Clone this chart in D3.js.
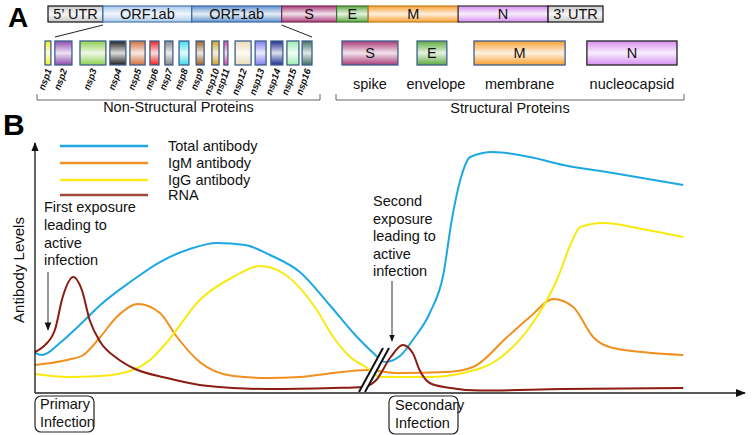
<!DOCTYPE html>
<html>
<head>
<meta charset="utf-8">
<script src="https://cdn.jsdelivr.net/npm/d3@7"></script>
<style>
  body { margin: 0; background: #fff; }
  svg { font-family: "Liberation Sans", Arial, Helvetica, sans-serif; }
</style>
</head>
<body>
<svg id="chart" width="752" height="435"></svg>
<script>
// Genome segments (relative genome units 0..100)
const genomeNames  = ["5\u2019 UTR", "ORF1ab", "ORF1ab", "S", "E", "M", "N", "3\u2019 UTR"];
const genomeBounds = [0, 9.9, 25.9, 42.1, 52, 57.7, 73.9, 90.1, 100];
const genomeColors = ["#c8c8c8", "#a9c8ea", "#5e93cc", "#a83c78", "#5caa40", "#f8a030", "#d68ef0", "#c8c8c8"];
const genomeStroke = ["#111", "#4a78b0", "#3a66a8", "#7a2a56", "#3f6f30", "#c77a20", "#333", "#111"];

// Non-structural proteins (relative span within ORF1ab)
const nspNames  = ["nsp1","nsp2","nsp3","nsp4","nsp5","nsp6","nsp7","nsp8","nsp9","nsp10","nsp11","nsp12","nsp13","nsp14","nsp15","nsp16"];
const nspStart  = [0, 3.7, 13.1, 24.3, 31.8, 39.3, 44.9, 50.2, 56.6, 62.5, 67, 71.2, 78.7, 84.6, 90.6, 96.3];
const nspEnd    = [2.2, 10.1, 22.8, 30.3, 37.5, 42.7, 47.9, 53.9, 59.6, 65.2, 68.5, 77.2, 82.8, 89.1, 95.1, 100];
const nspColors = ["#f2ee1a","#8e4bb0","#8fcf50","#1e1e1e","#d0703a","#f02020","#858585","#3fdde8","#a06020","#d0a020","#e040a0","#eadcb8","#7e7ef0","#1e2e90","#9eeeb0","#3f6f62"];

// Structural proteins
const spNames  = ["S", "E", "M", "N"];
const spLabels = ["spike", "envelope", "membrane", "nucleocapsid"];
const spStart  = [0, 22.4, 39.4, 73.1];
const spEnd    = [16.7, 31.3, 66.6, 100];
const spColors = ["#a83c78", "#5caa40", "#f8a030", "#d68ef0"];

// Antibody kinetics: [time, level]
const totalAb = [[0,16],[1,15.2],[3.5,20],[6.3,27.2],[9.2,35.2],[13.4,44.4],[17.6,52.4],[21.8,57.6],[25.6,60],[29.6,59.2],[33.1,55.2],[37.3,48.4],[41.5,35.2],[45.1,23.2],[47.5,16.4],[49.3,12.4],[51.4,14.8],[53.2,21.2],[55.6,32],[57.5,47.2],[58.7,69.2],[59.9,85.2],[61.3,94.4],[64.5,96.4],[69.7,94.4],[74.4,91.2],[81.4,88],[91.3,83.2]];
const igmAb   = [[0,11.2],[4.5,13.2],[6.8,15.2],[9.2,22.4],[11.5,30.4],[14.5,35.6],[17.6,32],[20,22.4],[23.2,12.4],[27.9,6.8],[32.7,6],[37.3,6.4],[42,8],[46.8,9.2],[51,8],[58,8.4],[61.7,10.4],[66.5,22.4],[69.7,30.4],[73,37.6],[75.8,34.4],[78.6,22.4],[81.4,18],[91.3,15.2]];
const iggAb   = [[0,7.6],[4.5,6.4],[9.2,6.8],[13.8,9.2],[16.2,13.2],[18.6,20.4],[23.2,37.2],[27.9,46.4],[31.7,50.8],[34.9,48],[39.7,33.2],[42,22.4],[44.4,14.4],[46.8,10],[48.6,6.4],[55.6,6.4],[60.3,8],[65.1,13.2],[69.7,26.4],[72.1,37.2],[73.5,45.2],[75.4,59.2],[76.8,66.4],[80,68],[86.2,65.2],[91.3,62.4]];
const rna     = [[0,16.4],[1.1,18.4],[2.8,25.2],[3.9,38.4],[5.4,46.4],[6.6,41.2],[7.7,29.2],[9.2,20.4],[11.5,14],[13.8,10],[18.6,6],[23.2,3.2],[27.9,2],[32.7,1.6],[42,2],[46.2,2.4],[48,5],[50.1,14.4],[51.8,19.2],[53.2,16],[54.2,9],[55.6,4],[58,2.2],[62.7,1],[74.4,1.6],[91.3,2]];

const seriesNames  = ["Total antibody", "IgM antibody", "IgG antibody", "RNA"];
const seriesData   = [totalAb, igmAb, iggAb, rna];
const seriesColors = ["#1ea8e2", "#f0901e", "#f8ea10", "#8a1c12"];
const legendColors = ["#1ea8e2", "#f0922a", "#fbe920", "#a0483a"];

const svg = d3.select("#chart");
const defs = svg.append("defs");

// vertical shine gradient: colour - light - colour
function shine(id, c) {
  const g = defs.append("linearGradient").attr("id", id)
    .attr("x1", 0).attr("y1", 0).attr("x2", 0).attr("y2", 1);
  g.append("stop").attr("offset", "0%").attr("stop-color", c);
  g.append("stop").attr("offset", "50%").attr("stop-color", d3.interpolateRgb(c, "#fff")(0.85));
  g.append("stop").attr("offset", "100%").attr("stop-color", c);
  return `url(#${id})`;
}

// ---------- Panel A ----------
svg.append("text").attr("x", 8).attr("y", 27)
  .attr("font-size", 28).attr("font-weight", "bold").text("A");

const gx = d3.scaleLinear().domain([0, 100]).range([48, 603]);
const barTop = 6, barH = 16;
const genome = svg.append("g");
genomeNames.forEach((name, i) => {
  const x0 = gx(genomeBounds[i]), x1 = gx(genomeBounds[i + 1]);
  genome.append("rect").attr("x", x0).attr("y", barTop).attr("width", x1 - x0).attr("height", barH)
    .attr("fill", shine("g" + i, genomeColors[i])).attr("stroke", genomeStroke[i]).attr("stroke-width", 1.2);
  genome.append("text").attr("x", (x0 + x1) / 2).attr("y", barTop + 13)
    .attr("text-anchor", "middle").attr("font-size", 14.5).attr("fill", "#111").text(name);
});

const nx = d3.scaleLinear().domain([0, 100]).range([45, 312]);
const boxTop = 41, boxH = 24;

// zoom lines from ORF1ab to nsp row
svg.append("line").attr("x1", gx(genomeBounds[1])).attr("y1", 25).attr("x2", nx(0) + 10).attr("y2", 37)
  .attr("stroke", "#222").attr("stroke-width", 1);
svg.append("line").attr("x1", gx(genomeBounds[3])).attr("y1", 25).attr("x2", nx(100)).attr("y2", 37)
  .attr("stroke", "#222").attr("stroke-width", 1);

const nsp = svg.append("g");
nspNames.forEach((name, i) => {
  const x0 = nx(nspStart[i]), x1 = nx(nspEnd[i]);
  nsp.append("rect").attr("x", x0).attr("y", boxTop).attr("width", x1 - x0).attr("height", boxH)
    .attr("fill", shine("n" + i, nspColors[i])).attr("stroke", "#3e5f8e").attr("stroke-width", 1.3);
  const cx = (x0 + x1) / 2 + 4;
  nsp.append("text").attr("transform", `translate(${cx},70) rotate(-70)`)
    .attr("text-anchor", "end").attr("font-size", 9.5).attr("font-style", "italic")
    .attr("font-weight", "bold").attr("fill", "#111").text(name);
});

const sx = d3.scaleLinear().domain([0, 100]).range([342, 677]);
const sp = svg.append("g");
spNames.forEach((name, i) => {
  const x0 = sx(spStart[i]), x1 = sx(spEnd[i]);
  sp.append("rect").attr("x", x0).attr("y", boxTop).attr("width", x1 - x0).attr("height", boxH)
    .attr("fill", shine("s" + i, spColors[i])).attr("stroke", i === 3 ? "#222" : "#3e5f8e").attr("stroke-width", 1.3);
  sp.append("text").attr("x", (x0 + x1) / 2).attr("y", boxTop + 17)
    .attr("text-anchor", "middle").attr("font-size", 14.5).attr("fill", "#111").text(name);
  sp.append("text").attr("x", (x0 + x1) / 2 + (i === 1 ? 4 : 0)).attr("y", 89)
    .attr("text-anchor", "middle").attr("font-size", 14.5).attr("fill", "#111").text(spLabels[i]);
});

// group brackets
function bracket(x0, x1, y, label, ly) {
  svg.append("path").attr("d", `M${x0},${y - 6}V${y}H${x1}V${y - 6}`)
    .attr("fill", "none").attr("stroke", "#666").attr("stroke-width", 1);
  svg.append("text").attr("x", (x0 + x1) / 2).attr("y", ly)
    .attr("text-anchor", "middle").attr("font-size", 14.5).attr("fill", "#111").text(label);
}
bracket(37, 320, 100, "Non-Structural Proteins", 112);
bracket(336, 684, 100, "Structural Proteins", 113);

// ---------- Panel B ----------
svg.append("text").attr("x", 3).attr("y", 135)
  .attr("font-size", 30).attr("font-weight", "bold").text("B");

const x = d3.scaleLinear().domain([0, 100]).range([35, 745]);
const y = d3.scaleLinear().domain([0, 100]).range([393, 143]);

defs.append("marker").attr("id", "arrow").attr("viewBox", "0 0 10 10")
  .attr("refX", 9).attr("refY", 5).attr("markerWidth", 7).attr("markerHeight", 7)
  .attr("orient", "auto-start-reverse")
  .append("path").attr("d", "M0,1L10,5L0,9z").attr("fill", "#111");

const lineGen = d3.line().x(d => x(d[0])).y(d => y(d[1])).curve(d3.curveMonotoneX);
const curves = svg.append("g");
seriesData.forEach((data, i) => {
  curves.append("path").datum(data).attr("d", lineGen)
    .attr("fill", "none").attr("stroke", seriesColors[i]).attr("stroke-width", 2);
});

// axes
svg.append("line").attr("x1", x(0)).attr("y1", y(0)).attr("x2", x(0)).attr("y2", y(100))
  .attr("stroke", "#111").attr("stroke-width", 1.3).attr("marker-end", "url(#arrow)");
svg.append("line").attr("x1", x(0)).attr("y1", y(0)).attr("x2", x(100)).attr("y2", y(0))
  .attr("stroke", "#222").attr("stroke-width", 1.5).attr("marker-end", "url(#arrow)");

svg.append("text").attr("transform", `translate(24,${y(50) + 2}) rotate(-90)`)
  .attr("text-anchor", "middle").attr("font-size", 15).attr("fill", "#111").text("Antibody Levels");

// axis break marker
const bx0 = 359, bx1 = 383;
svg.append("path").attr("d", `M${bx0},${y(0) - 1}L${bx1},${y(18)}L${bx1 + 6},${y(18)}L${bx0 + 6},${y(0) - 1}z`)
  .attr("fill", "#fff");
[0, 6].forEach(o => {
  svg.append("line").attr("x1", bx0 + o).attr("y1", y(0) - 1).attr("x2", bx1 + o).attr("y2", y(18))
    .attr("stroke", "#111").attr("stroke-width", 2);
});

// legend
const legend = svg.append("g");
const legendY = [146, 163, 180, 195];
seriesNames.forEach((name, i) => {
  legend.append("line").attr("x1", 60).attr("x2", 148).attr("y1", legendY[i]).attr("y2", legendY[i])
    .attr("stroke", legendColors[i]).attr("stroke-width", 2.5);
  legend.append("text").attr("x", 168).attr("y", legendY[i] + 5)
    .attr("font-size", 14.5).attr("fill", "#111").text(name);
});

// annotations
function multiline(lines, x0, y0, dy) {
  const t = svg.append("text").attr("font-size", 14.5).attr("fill", "#111");
  lines.forEach((l, i) => t.append("tspan").attr("x", x0).attr("y", y0 + i * dy).text(l));
}
multiline(["First exposure", "leading to", "active", "infection"], 44, 212, 17.8);
multiline(["Second", "exposure", "leading to", "active", "infection"], 373, 206, 17.6);

svg.append("line").attr("x1", 48).attr("y1", 272).attr("x2", 48).attr("y2", 330)
  .attr("stroke", "#555").attr("stroke-width", 1.2).attr("marker-end", "url(#arrow)");
svg.append("line").attr("x1", 392).attr("y1", 281).attr("x2", 392).attr("y2", 341)
  .attr("stroke", "#333").attr("stroke-width", 1).attr("marker-end", "url(#arrow)");

// infection boxes
defs.append("clipPath").attr("id", "clipPrimary")
  .append("rect").attr("x", 35).attr("y", 396).attr("width", 59).attr("height", 36);
const prim = svg.append("g");
prim.append("g").attr("clip-path", "url(#clipPrimary)").append("text")
  .attr("font-size", 14.5).attr("fill", "#111")
  .call(t => {
    t.append("tspan").attr("x", 40).attr("y", 409).text("Primary");
    t.append("tspan").attr("x", 40).attr("y", 427).text("Infection");
  });
prim.append("rect").attr("x", 35).attr("y", 396).attr("width", 59).attr("height", 36).attr("rx", 6)
  .attr("fill", "none").attr("stroke", "#222").attr("stroke-width", 1.2);

const sec = svg.append("g");
sec.append("rect").attr("x", 389).attr("y", 396).attr("width", 69).attr("height", 38).attr("rx", 6)
  .attr("fill", "none").attr("stroke", "#222").attr("stroke-width", 1.2);
sec.append("text").attr("font-size", 14.5).attr("fill", "#111")
  .call(t => {
    t.append("tspan").attr("x", 395).attr("y", 410).text("Secondary");
    t.append("tspan").attr("x", 395).attr("y", 428).text("Infection");
  });
</script>
</body>
</html>
